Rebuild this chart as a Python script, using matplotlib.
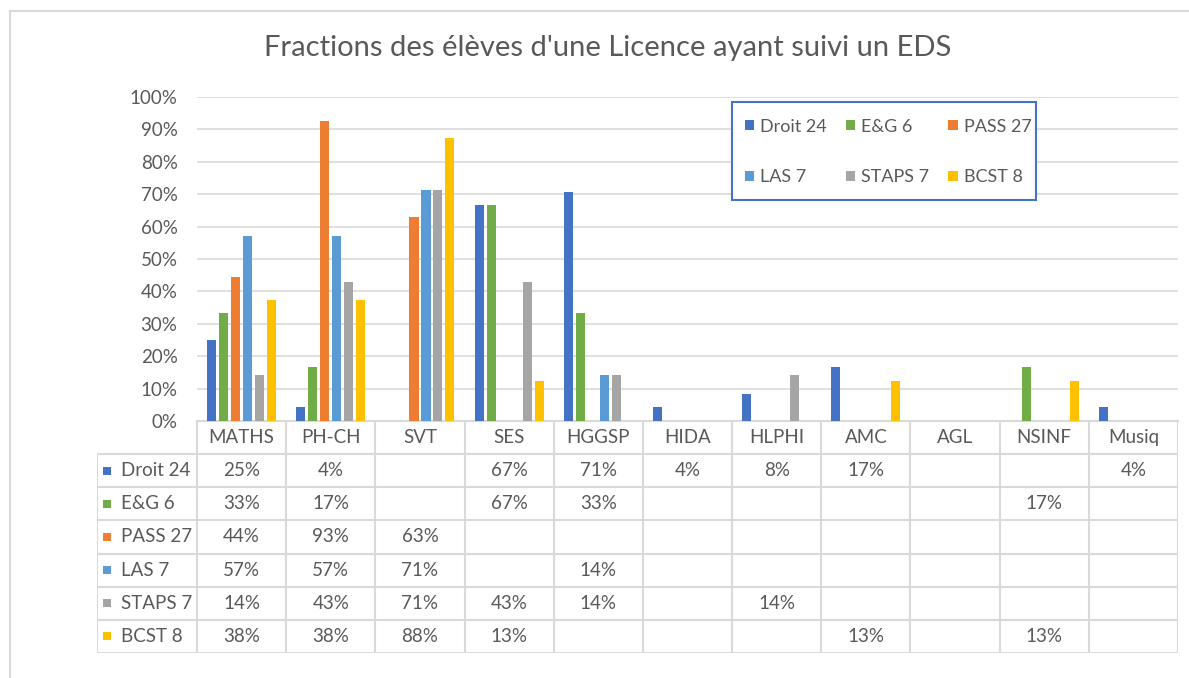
import matplotlib
matplotlib.use("Agg")
import matplotlib.pyplot as plt
from matplotlib.patches import Rectangle
from matplotlib.lines import Line2D
import numpy as np

categories = ["MATHS", "PH-CH", "SVT", "SES", "HGGSP", "HIDA", "HLPHI", "AMC", "AGL", "NSINF", "Musiq"]
series_names = ["Droit 24", "E&G 6", "PASS 27", "LAS 7", "STAPS 7", "BCST 8"]
droit = [0.25, 0.042, None, 0.667, 0.708, 0.042, 0.083, 0.167, None, None, 0.042]
eg = [0.333, 0.167, None, 0.667, 0.333, None, None, None, None, 0.167, None]
pass_ = [0.444, 0.926, 0.63, None, None, None, None, None, None, None, None]
las = [0.571, 0.571, 0.714, None, 0.143, None, None, None, None, None, None]
staps = [0.143, 0.429, 0.714, 0.429, 0.143, None, 0.143, None, None, None, None]
bcst = [0.375, 0.375, 0.875, 0.125, None, None, None, 0.125, None, 0.125, None]
yticks = [0, 0.1, 0.2, 0.3, 0.4, 0.5, 0.6, 0.7, 0.8, 0.9, 1.0]
title = "Fractions des élèves d'une Licence ayant suivi un EDS"

series = [droit, eg, pass_, las, staps, bcst]
colors = ["#4472C4", "#70AD47", "#ED7D31", "#5B9BD5", "#A5A5A5", "#FFC000"]
TXT = "#595959"
GRID = "#D9D9D9"
FONT = ["Lato", "DejaVu Sans"]
plt.rcParams["font.family"] = FONT
FS = 13.5
LFS = 13


def pct(v):
    return f"{int(v * 100 + 0.5)}%"


W, H = 1189, 678
fig = plt.figure(figsize=(W / 100, H / 100), dpi=100)


def fx(px):
    return px / W


def fy(py):
    return 1 - py / H


# outer chart border
fig.add_artist(Line2D([fx(10), fx(10)], [fy(11), 0], color="#D9D9D9", lw=1.5, transform=fig.transFigure))
fig.add_artist(Line2D([fx(10), 1], [fy(11), fy(11)], color="#D9D9D9", lw=1.5, transform=fig.transFigure))

# main axes
L, R, T, B = 197, 1178, 97, 421
ax = fig.add_axes([fx(L), fy(B), fx(R - L), (B - T) / H])
n = len(categories)
x = np.arange(n)
bw = 0.102
step = 0.1345
handles = []
for i, (vals, c, name) in enumerate(zip(series, colors, series_names)):
    v = [np.nan if a is None else a for a in vals]
    h = ax.bar(x + (i - 2.5) * step, v, width=bw, color=c, label=name, zorder=3)
    handles.append(h)
ax.set_xlim(-0.5, n - 0.5)
ax.set_ylim(0, 1.0)
ax.set_yticks(yticks)
ax.set_yticklabels([pct(t) for t in yticks])
ax.set_xticks([])
ax.tick_params(axis="y", length=0, pad=14, labelsize=FS, labelcolor=TXT)
ax.yaxis.grid(True, color=GRID, lw=1.2, zorder=0)
for s in ["top", "right", "left"]:
    ax.spines[s].set_visible(False)
ax.spines["bottom"].set_color(GRID)
ax.spines["bottom"].set_linewidth(1.5)

# legend box (drawn as a frame) and legend entries (row-wise order)
ax.add_patch(Rectangle((fx(732), fy(200)), fx(1036 - 732), 98 / H, transform=fig.transFigure,
                       facecolor="white", edgecolor="#4472C4", lw=1.5, zorder=4, clip_on=False))
order = [0, 3, 1, 4, 2, 5]
pad = 0.92
pad_px = pad * LFS * 100 / 72
leg = ax.legend([handles[k] for k in order], [series_names[k] for k in order],
                ncol=3, loc="upper left",
                bbox_to_anchor=(fx(745 - pad_px), fy(102)),
                bbox_transform=fig.transFigure, frameon=False,
                fontsize=LFS, handlelength=0.5, handleheight=0.5,
                handletextpad=0.35, labelspacing=1.92, columnspacing=1.05,
                borderpad=pad, borderaxespad=0, labelcolor=TXT)
leg.set_zorder(5)

# title
fig.text(fx(608), fy(48), title, ha="center", va="center", fontsize=21, color=TXT)

# data table
TL, TT, TB = 97, 421, 653
tax = fig.add_axes([fx(TL), fy(TB), fx(R - TL), (TB - TT) / H])
cw = (R - L) / n
left_units = (L - TL) / cw
xl = -0.5 - left_units
tax.set_xlim(xl, n - 0.5)
tax.set_ylim(7, 0)
tax.axis("off")
lc = GRID
lw = 1.5
for k in range(n + 1):
    tax.plot([k - 0.5, k - 0.5], [0, 7], color=lc, lw=lw, solid_capstyle="butt")
tax.plot([xl, xl], [1, 7], color=lc, lw=lw, solid_capstyle="butt")
for r in range(1, 8):
    tax.plot([xl, n - 0.5], [r, r], color=lc, lw=lw, solid_capstyle="butt")
for j, cat in enumerate(categories):
    tax.text(j, 0.5, cat, ha="center", va="center", fontsize=FS, color=TXT)
sq_w = 8 / cw
for i, (vals, c, name) in enumerate(zip(series, colors, series_names)):
    yr = i + 1.5
    tax.add_patch(Rectangle((xl + 6 / cw, yr - 0.12), sq_w, 0.24, color=c, lw=0))
    tax.text(xl + 24 / cw, yr, name, ha="left", va="center", fontsize=FS, color=TXT)
    for j, v in enumerate(vals):
        if v is not None:
            tax.text(j, yr, pct(v), ha="center", va="center", fontsize=FS, color=TXT)

fig.savefig("out.png", dpi=100, facecolor="white")
